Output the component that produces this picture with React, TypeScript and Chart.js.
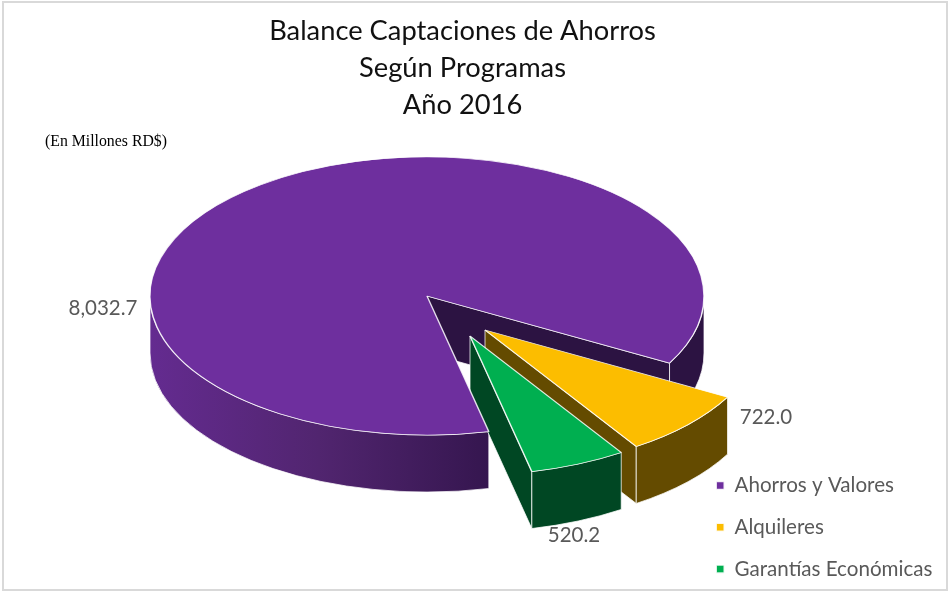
import React, { useEffect, useRef } from "react";
import { Chart, registerables } from "chart.js";

Chart.register(...registerables);

const categories = ["Ahorros y Valores", "Alquileres", "Garantías Económicas"];
const balances = [8032.7, 722.0, 520.2];
const topColors = ["#6E2F9E", "#FCBD00", "#00AF50"];
const sideColors = ["#2C1342", "#644B00", "#004723"];
const titleLines = ["Balance Captaciones de Ahorros", "Según Programas", "Año 2016"];
const unitNote = "(En Millones RD$)";

const SANS = "Lato, 'Noto Sans', sans-serif";
const SERIF = "'Liberation Serif', serif";
const K = 0.502; // vertical squash of the tilted disc
const DEPTH = 57;
const RADIUS = 277;
const shifts = [
  { dx: 0, dy: 0 },
  { dx: 58, dy: 34 },
  { dx: 43, dy: 40 },
];
const labelAnchors = [
  { dx: -324, dy: 12 },
  { dx: 281, dy: 87 },
  { dx: 104, dy: 199 },
];

const fmt = new Intl.NumberFormat("en-US", { minimumFractionDigits: 1, maximumFractionDigits: 1 });

const frame = {
  id: "frame",
  beforeDraw(chart: any) {
    const { ctx, width, height } = chart;
    ctx.save();
    ctx.fillStyle = "#fff";
    ctx.fillRect(0, 0, width, height);
    ctx.strokeStyle = "#d9d9d9";
    ctx.lineWidth = 2;
    ctx.strokeRect(3, 2, width - 5, height - 4);
    ctx.restore();
  },
};

const placeBoxes = {
  id: "placeBoxes",
  afterLayout(chart: any) {
    const a = chart.chartArea;
    a.left = 0;
    a.right = 854;
    a.top = 0;
    a.bottom = 592;
    a.width = 854;
    a.height = 592;
    const t = chart.titleBlock;
    t.left = 0;
    t.right = 925;
    t.top = 13;
    const sub = chart.boxes.find((b: any) => b.options && b.options.text === unitNote);
    if (sub) {
      sub.left = 45;
      sub.right = 300;
      sub.top = 132;
    }
    const l = chart.legend;
    l.left = 695;
    l.right = 949;
    l.top = 454;
    l.bottom = 640;
  },
};

const tilted = {
  id: "tilted",
  afterDatasetsUpdate(chart: any) {
    const arcs = chart.getDatasetMeta(0).data;
    arcs.forEach((arc: any, i: number) => {
      arc.x += shifts[i].dx;
      arc.y += shifts[i].dy / K;
    });
  },
  beforeDatasetsDraw(chart: any) {
    const { ctx, chartArea } = chart;
    const cy = (chartArea.top + chartArea.bottom) / 2;
    const arcs = chart.getDatasetMeta(0).data;
    const TAU = Math.PI * 2;
    const sy = (y: number) => cy + (y - cy) * K;

    arcs.forEach((arc: any, i: number) => {
      const R = arc.outerRadius;
      const ax = arc.x;
      const ay = sy(arc.y);
      const px = (t: number) => ax + R * Math.cos(t);
      const py = (t: number) => ay + R * K * Math.sin(t);
      ctx.save();
      ctx.lineWidth = 1;
      ctx.strokeStyle = "rgba(255,255,255,0.75)";
      ctx.lineJoin = "round";

      // flat cut face along the end edge, when it faces the viewer
      const e = arc.endAngle;
      if (Math.sin(e + Math.PI / 2) > 0) {
        ctx.beginPath();
        ctx.moveTo(ax, ay);
        ctx.lineTo(px(e), py(e));
        ctx.lineTo(px(e), py(e) + DEPTH);
        ctx.lineTo(ax, ay + DEPTH);
        ctx.closePath();
        ctx.fillStyle = sideColors[i];
        ctx.fill();
        ctx.stroke();
      }

      // curved rim: the parts of the slice that lie on the near half of the disc
      for (let turn = 0; turn < 2; turn++) {
        const from = Math.max(arc.startAngle, turn * TAU);
        const to = Math.min(arc.endAngle, turn * TAU + Math.PI);
        if (to <= from) continue;
        ctx.beginPath();
        ctx.ellipse(ax, ay, R, R * K, 0, from, to);
        ctx.ellipse(ax, ay + DEPTH, R, R * K, 0, to, from, true);
        ctx.closePath();
        if (i === 0 && turn === 0) {
          const g = ctx.createLinearGradient(ax - R, 0, px(from), 0);
          g.addColorStop(0, "#642B90");
          g.addColorStop(0.5, "#51256F");
          g.addColorStop(1, "#35164F");
          ctx.fillStyle = g;
        } else {
          ctx.fillStyle = sideColors[i];
        }
        ctx.fill();
        ctx.stroke();
      }
      ctx.restore();
    });

    ctx.save();
    ctx.translate(0, cy);
    ctx.scale(1, K);
    ctx.translate(0, -cy);
  },
  afterDatasetsDraw(chart: any) {
    const { ctx, chartArea } = chart;
    ctx.restore();
    const cy = (chartArea.top + chartArea.bottom) / 2;
    const arcs = chart.getDatasetMeta(0).data;
    ctx.save();
    ctx.font = `20.5px ${SANS}`;
    ctx.fillStyle = "#595959";
    ctx.textAlign = "center";
    ctx.textBaseline = "middle";
    arcs.forEach((arc: any, i: number) => {
      const y = cy + (arc.y - cy) * K;
      ctx.fillText(fmt.format(balances[i]), arc.x + labelAnchors[i].dx, y + labelAnchors[i].dy);
    });
    ctx.restore();
  },
};

export default function App() {
  const ref = useRef<HTMLCanvasElement | null>(null);

  useEffect(() => {
    if (!ref.current) return;
    const chart = new Chart(ref.current, {
      type: "pie",
      data: {
        labels: categories,
        datasets: [
          {
            data: balances,
            backgroundColor: topColors,
            borderColor: "rgba(255,255,255,0.85)",
            borderWidth: 1.5,
            clip: false,
          } as any,
        ],
      },
      options: {
        responsive: false,
        animation: false,
        events: [],
        rotation: 167.1,
        radius: RADIUS,
        plugins: {
          title: {
            display: true,
            text: titleLines,
            color: "#111111",
            font: { family: SANS, size: 27.3, weight: "normal", lineHeight: 1.345 },
            padding: 0,
          },
          subtitle: {
            display: true,
            text: unitNote,
            align: "start",
            color: "#000000",
            font: { family: SERIF, size: 15.8, weight: "normal" },
            padding: 0,
          },
          legend: {
            display: true,
            position: "right",
            align: "start",
            labels: {
              boxWidth: 8,
              boxHeight: 8,
              padding: 21.2,
              color: "#595959",
              font: { family: SANS, size: 20.6 },
            },
          },
          tooltip: { enabled: false },
        },
      } as any,
      plugins: [frame, placeBoxes, tilted],
    });
    return () => chart.destroy();
  }, []);

  return (
    <div style={{ position: "absolute", left: 0, top: 0, width: 949, height: 592 }}>
      <canvas ref={ref} width={949} height={592} style={{ display: "block" }} />
    </div>
  );
}
